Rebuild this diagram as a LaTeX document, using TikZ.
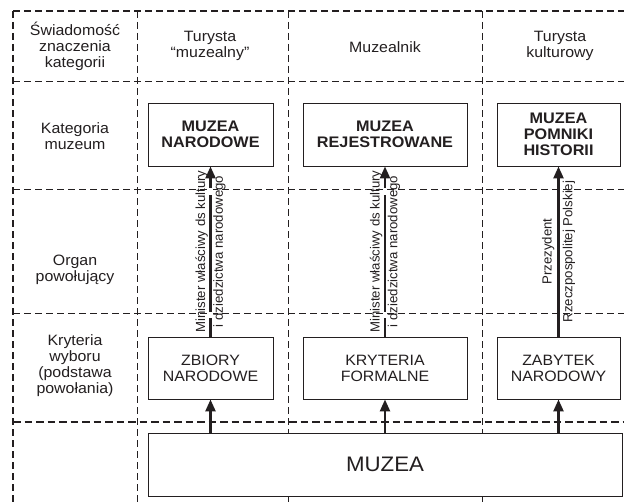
\documentclass[tikz,border=0pt]{standalone}
\usepackage{fontspec}
\setmainfont[FakeStretch=1.06]{Liberation Sans}
\newfontfamily\rotfont{Liberation Sans}
\usetikzlibrary{arrows.meta}
\definecolor{ink}{HTML}{231F20}
\begin{document}
\begin{tikzpicture}[x=1pt,y=-1pt,
  frame/.style={draw=ink, dash pattern=on 7pt off 4pt, line width=1.4pt},
  grid/.style={draw=ink, dash pattern=on 7pt off 4pt, line width=0.9pt},
  thickgrid/.style={draw=ink, dash pattern=on 7.5pt off 4pt, line width=1.8pt},
  lab/.style={align=center, text=ink, inner sep=0pt, font=\fontsize{15}{16}\selectfont},
  box/.style={draw=ink, line width=0.9pt, fill=white, align=center, inner sep=0pt, text=ink, font=\fontsize{15}{16}\selectfont},
  boldbox/.style={box, font=\fontsize{15.3}{16}\selectfont\bfseries},
  arr/.style={draw=ink, line width=2.4pt, -{Triangle[length=12pt,width=10pt]}},
  rotl/.style={rotate=90, anchor=south, font=\rotfont\fontsize{13.2}{14}\selectfont, text=ink, inner sep=#1},
  rotr/.style={rotate=90, anchor=north, font=\rotfont\fontsize{13.2}{14}\selectfont, text=ink, inner sep=#1},
  gap/.style={fill=white, draw=none}
]
\useasboundingbox (0,0) rectangle (624,503);
\fill[white] (0,0) rectangle (624,503);

% grid
\draw[frame] (13,11) -- (624,11);
\draw[frame] (13,11) -- (13,503);
\draw[grid] (13,81) -- (624,81);
\draw[grid] (13,189) -- (624,189);
\draw[grid] (13,313) -- (624,313);
\draw[thickgrid] (13,422) -- (624,422);
\draw[grid] (137,11) -- (137,503);
\draw[grid] (288,11) -- (288,503);
\draw[grid] (482,11) -- (482,503);

% headers and row labels
\node[lab] (h1) at (75,46) {Świadomość\\znaczenia\\kategorii};
\node[lab] (h2) at (210,46) {Turysta\\“muzealny”};
\node[lab] (h3) at (385,47) {Muzealnik};
\node[lab] (h4) at (560,46) {Turysta\\kulturowy};
\node[lab] (r2) at (75,136) {Kategoria\\muzeum};
\node[lab] (r3) at (75,270) {Organ\\powołujący};
\node[lab] (r4) at (75,366) {Kryteria\\wyboru\\(podstawa\\powołania)};

% boxes
\node[boldbox, minimum width=125pt, minimum height=63pt] (mn) at (210.5,134.5) {MUZEA\\NARODOWE};
\node[boldbox, minimum width=164pt, minimum height=63pt] (mr) at (385,134.5) {MUZEA\\REJESTROWANE};
\node[boldbox, minimum width=123pt, minimum height=63pt] (mp) at (558.5,134.5) {MUZEA\\POMNIKI\\HISTORII};
\node[box, minimum width=125pt, minimum height=62pt] (zn) at (210.5,368) {ZBIORY\\NARODOWE};
\node[box, minimum width=164pt, minimum height=62pt] (kf) at (385,368) {KRYTERIA\\FORMALNE};
\node[box, minimum width=123pt, minimum height=62pt] (zb) at (558.5,368) {ZABYTEK\\NARODOWY};
\node[box, minimum width=474pt, minimum height=63pt, font=\fontsize{21}{24}\selectfont] (mu) at (385,464.5) {MUZEA};

% lower arrows
\draw[arr] (mu.north -| zn) -- (zn.south);
\draw[arr] (mu.north -| kf) -- (kf.south);
\draw[arr] (mu.north -| zb) -- (zb.south);

% upper arrows
\draw[arr] (zn.north) -- (mn.south);
\draw[arr] (kf.north) -- (mr.south);
\draw[arr] (zb.north) -- (mp.south);

% white breaks
\fill[gap] (208.3,188) rectangle (212.7,195);
\fill[gap] (208.3,312) rectangle (212.7,318);
\fill[gap] (382.8,188) rectangle (387.2,195);
\fill[gap] (382.8,312) rectangle (387.2,318);

% rotated labels
\path (zn.north) -- (mn.south)
  node[midway, rotl=2.5pt] (l1) {Minister właściwy ds kultury}
  node[midway, rotr=2.5pt] (l2) {i dziedzictwa narodowego};
\path (kf.north) -- (mr.south)
  node[midway, rotl=2.5pt] (l3) {Minister właściwy ds kultury}
  node[midway, rotr=2.5pt] (l4) {i dziedzictwa narodowego};
\path (zb.north) -- (mp.south)
  node[midway, rotl=4pt] (l5) {Przezydent}
  node[midway, rotr=4pt] (l6) {Rzeczpospolitej Polskiej};
\end{tikzpicture}
\end{document}
